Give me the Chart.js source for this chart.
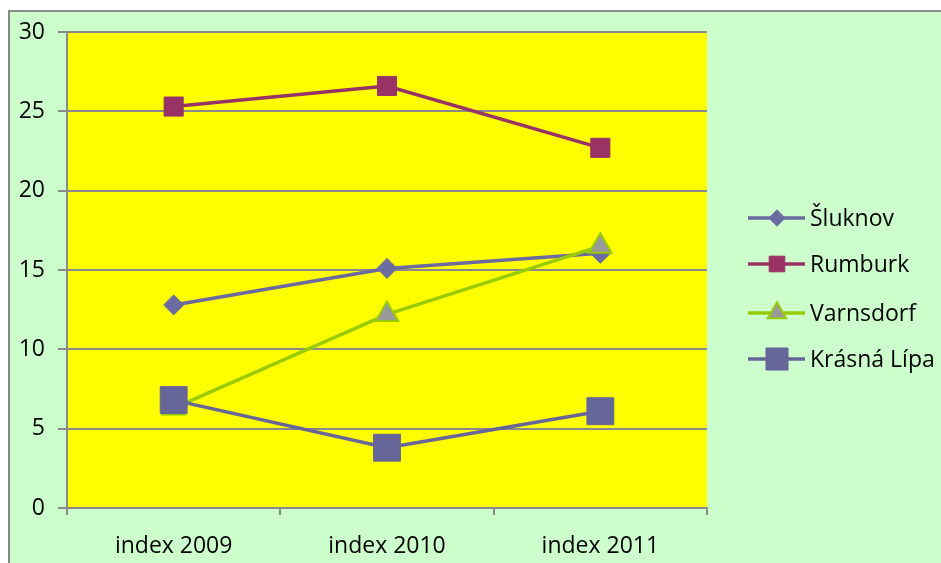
<!DOCTYPE html>
<html>
<head>
<meta charset="utf-8">
<script src="https://cdn.jsdelivr.net/npm/chart.js@4/dist/chart.umd.min.js"></script>
<style>
  body { margin: 0; background: #fff; }
  #box {
    position: absolute; left: 8px; top: 10px;
    border-left: 2px solid #8a8a8a; border-top: 2px solid #8a8a8a;
    background: #ccffcc; width: 931px; height: 551px;
  }
  canvas { display: block; }
</style>
</head>
<body>
<div id="box"><canvas id="chart" width="931" height="551"></canvas></div>
<script>
const categories = ['index 2009', 'index 2010', 'index 2011'];
const sluknov = [12.8, 15.1, 16.05];
const rumburk = [25.3, 26.6, 22.7];
const varnsdorf = [6.3, 12.2, 16.5];
const krasnaLipa = [6.8, 3.8, 6.1];

const FONT = '"Open Sans", sans-serif';

// yellow plot area
const plotBg = {
  id: 'plotBg',
  beforeDraw(chart) {
    const { ctx, chartArea: a } = chart;
    ctx.save();
    ctx.fillStyle = '#ffff00';
    ctx.fillRect(a.left, a.top, a.right - a.left, a.bottom - a.top);
    ctx.restore();
  }
};

function marker(ctx, style, x, y, r, fill, stroke, bw) {
  ctx.beginPath();
  if (style === 'rect') {
    const s = Math.SQRT1_2 * r;
    ctx.rect(x - s, y - s, 2 * s, 2 * s);
  } else if (style === 'rectRot') {
    ctx.moveTo(x, y - r); ctx.lineTo(x + r, y); ctx.lineTo(x, y + r); ctx.lineTo(x - r, y);
    ctx.closePath();
  } else {
    ctx.moveTo(x, y - r);
    ctx.lineTo(x + r * Math.sin(2 * Math.PI / 3), y - r * Math.cos(2 * Math.PI / 3));
    ctx.lineTo(x + r * Math.sin(4 * Math.PI / 3), y - r * Math.cos(4 * Math.PI / 3));
    ctx.closePath();
  }
  ctx.fillStyle = fill;
  ctx.fill();
  ctx.lineWidth = bw;
  ctx.strokeStyle = stroke;
  ctx.stroke();
}

// legend with line + marker like the original
const lineLegend = {
  id: 'lineLegend',
  afterDraw(chart) {
    const ctx = chart.ctx;
    const rows = [206, 252, 301, 347];
    ctx.save();
    chart.data.datasets.forEach((ds, i) => {
      const y = rows[i];
      ctx.strokeStyle = ds.borderColor;
      ctx.lineWidth = 3.5;
      ctx.beginPath();
      ctx.moveTo(738, y);
      ctx.lineTo(795, y);
      ctx.stroke();
      marker(ctx, ds.pointStyle, 767, y, ds.pointRadius * 0.82, ds.pointBackgroundColor, ds.pointBorderColor, ds.pointBorderWidth);
      ctx.fillStyle = '#000';
      ctx.font = '23px ' + FONT;
      ctx.textBaseline = 'middle';
      ctx.textAlign = 'left';
      ctx.fillText(ds.label, 800, y + 1);
    });
    ctx.restore();
  }
};

new Chart(document.getElementById('chart'), {
  type: 'line',
  data: {
    labels: categories,
    datasets: [
      {
        label: 'Šluknov', data: sluknov, order: 4,
        borderColor: '#6b6ba0', borderWidth: 3.5,
        pointStyle: 'rectRot', pointRadius: 10,
        pointBackgroundColor: '#6b6ba0', pointBorderColor: '#6b6ba0', pointBorderWidth: 1
      },
      {
        label: 'Rumburk', data: rumburk, order: 3,
        borderColor: '#993366', borderWidth: 3.5,
        pointStyle: 'rect', pointRadius: 13.5,
        pointBackgroundColor: '#993366', pointBorderColor: '#993366', pointBorderWidth: 1
      },
      {
        label: 'Varnsdorf', data: varnsdorf, order: 2,
        borderColor: '#99cc00', borderWidth: 3.5,
        pointStyle: 'triangle', pointRadius: 13,
        pointBackgroundColor: '#999999', pointBorderColor: '#99cc00', pointBorderWidth: 2
      },
      {
        label: 'Krásná Lípa', data: krasnaLipa, order: 1,
        borderColor: '#666699', borderWidth: 3.5,
        pointStyle: 'rect', pointRadius: 19,
        pointBackgroundColor: '#666699', pointBorderColor: '#666699', pointBorderWidth: 1
      }
    ]
  },
  options: {
    responsive: false,
    animation: false,
    layout: { padding: { top: 17, right: 234, left: 0, bottom: 0 } },
    plugins: {
      legend: { display: false },
      tooltip: { enabled: false }
    },
    scales: {
      x: {
        offset: true,
        afterFit(scale) { scale.height = 55; },
        grid: { drawOnChartArea: false, drawTicks: true, tickLength: 7, color: '#8a8a8a', lineWidth: 2, offset: true },
        border: { display: true, color: '#8a8a8a', width: 2 },
        ticks: { color: '#000', font: { family: FONT, size: 23 }, padding: 18 }
      },
      y: {
        min: 0, max: 30,
        afterFit(scale) {
          scale.width = 57;
          scale.paddingTop = 0;
          scale.paddingBottom = 0;
        },
        grid: { color: '#8a8a8a', lineWidth: 2, tickLength: 9 },
        border: { display: true, color: '#8a8a8a', width: 2 },
        ticks: { stepSize: 5, color: '#000', font: { family: FONT, size: 23 }, padding: 13 }
      }
    }
  },
  plugins: [plotBg, lineLegend]
});
</script>
</body>
</html>
